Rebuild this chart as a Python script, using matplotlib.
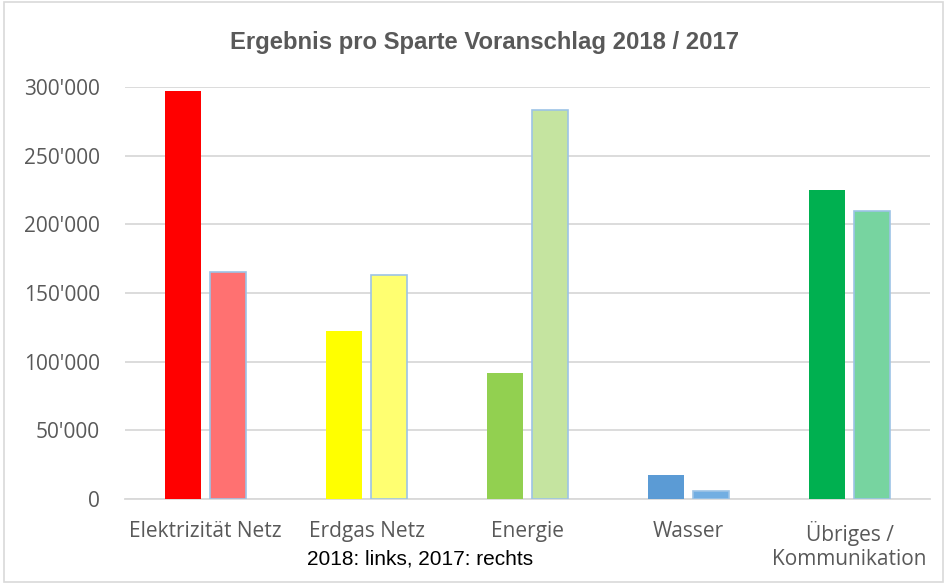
import numpy as np
import matplotlib.pyplot as plt
from matplotlib.ticker import FuncFormatter

# Daten
sparten = ['Elektrizität Netz', 'Erdgas Netz', 'Energie', 'Wasser', 'Übriges /\nKommunikation']
werte_2018 = [297000, 122000, 92000, 17500, 225000]
werte_2017 = [165000, 163000, 283000, 6000, 210000]

farben_2018 = ['#FF0000', '#FFFF00', '#92D050', '#5B9BD5', '#00B050']
farben_2017 = ['#FF7171', '#FFFF71', '#C5E4A0', '#72AEE2', '#77D4A0']

plt.rcParams['font.family'] = ['Open Sans', 'DejaVu Sans']

fig = plt.figure(figsize=(9.47, 5.84), dpi=100)
ax = fig.add_axes([125 / 947, 1 - 499 / 584, 805 / 947, 412 / 584])

x = np.arange(len(sparten))
breite = 0.225
ax.bar(x - 0.142, werte_2018, width=breite, color=farben_2018, zorder=3)
ax.bar(x + 0.142, werte_2017, width=breite, color=farben_2017,
       edgecolor='#9DC3E6', linewidth=1.2, zorder=3)

ax.set_xlim(-0.5, len(sparten) - 0.5)
ax.set_ylim(0, 300000)
ax.set_yticks(np.arange(0, 300001, 50000))
ax.yaxis.set_major_formatter(FuncFormatter(lambda v, p: f"{int(v):,}".replace(',', "'")))
ax.grid(axis='y', color='#D9D9D9', linewidth=1.3, zorder=0)
for s in ['top', 'right', 'left']:
    ax.spines[s].set_visible(False)
ax.spines['bottom'].set_color('#D9D9D9')
ax.spines['bottom'].set_linewidth(1.3)
ax.tick_params(axis='both', length=0, labelsize=15, colors='#595959')
ax.tick_params(axis='x', pad=16)
ax.tick_params(axis='y', pad=18)
ax.set_xticks(x)
ax.set_xticklabels(sparten, linespacing=1.15)

fig.text(484 / 947, 1 - 42 / 584, 'Ergebnis pro Sparte Voranschlag 2018 / 2017',
         ha='center', va='center', fontsize=17.2, fontweight='bold',
         color='#595959', family='Liberation Sans')
fig.text(420 / 947, 1 - 559 / 584, '2018: links, 2017: rechts',
         ha='center', va='center', fontsize=15, color='black', family='Liberation Sans')

# Rahmen
fig.patches.append(plt.Rectangle((0.004, 0.004), 0.992, 0.992, transform=fig.transFigure,
                                 fill=False, edgecolor='#D9D9D9', linewidth=1.2))

fig.savefig('out.png', dpi=100)
